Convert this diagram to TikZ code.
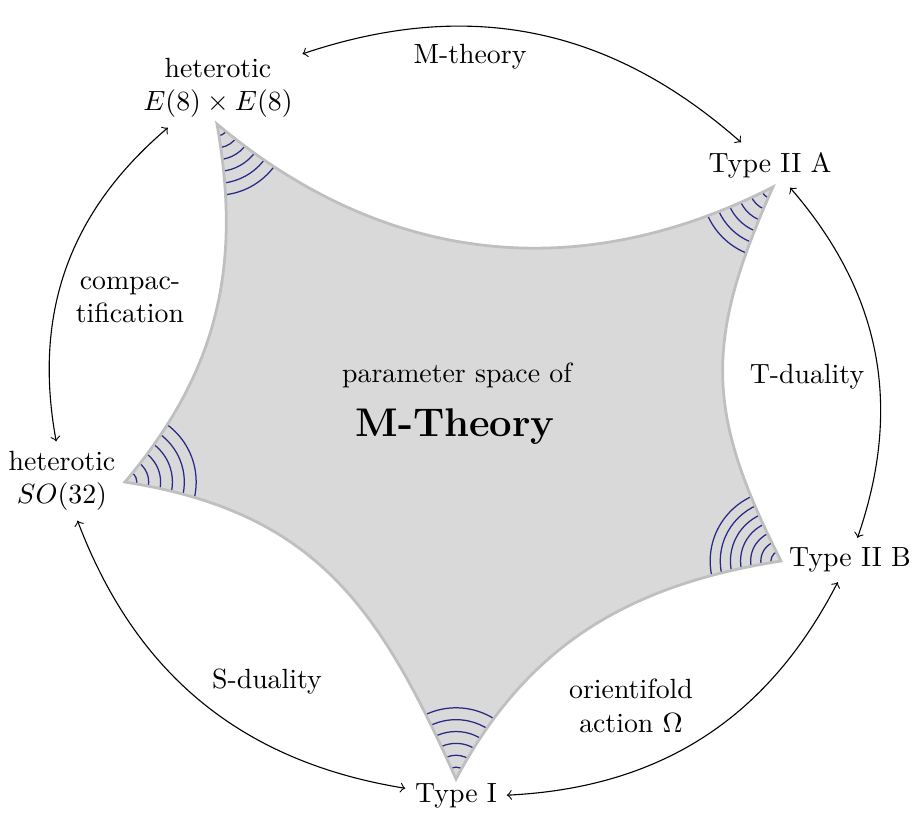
\documentclass[tikz,border=0pt]{standalone}
\usepackage{tikz}
\usepackage{amsmath}
\usetikzlibrary{calc}

\definecolor{arcblue}{RGB}{40,40,135}

\newcommand{\modulipath}{(tl) to[out=-40,in=207] (tr) to[out=246,in=117,looseness=1.15] (br)
  to[out=189,in=62] (bt) to[out=114,in=-9,looseness=1.1] (lf) to[out=50,in=-80] (tl) -- cycle}

\begin{document}
\begin{tikzpicture}[
    dual/.style={<->, bend left=30},
    limitarc/.style={draw=arcblue, line width=0.45pt},
    twoline/.style={align=center}
  ]
  \useasboundingbox (0,0) rectangle (11.618,10.354);

  \coordinate (tl) at (2.743,8.786);
  \coordinate (tr) at (9.772,7.990);
  \coordinate (br) at (9.874,3.262);
  \coordinate (bt) at (5.765,0.506);
  \coordinate (lf) at (1.580,4.260);

  \fill[black!15] \modulipath;
  \begin{scope}
    \clip \modulipath;
    \foreach \v in {tl,tr,lf,bt}
      \foreach \r in {1,...,6}
        \draw[limitarc] (\v) circle [radius=0.15*\r];
    \foreach \r in {1,...,7}
      \draw[limitarc] (br) circle [radius=0.128*\r];
  \end{scope}
  \draw[black!25, line width=1pt] \modulipath;

  \node[twoline] (e8) at (2.756,9.241) {heterotic\\$E(8)\times E(8)$};
  \node (iia) at (9.735,8.268) {Type II A};
  \node[twoline] (so32) at (0.784,4.273) {heterotic\\$SO(32)$};
  \node (iib) at (10.746,3.274) {Type II B};
  \node (ti) at (5.765,0.291) {Type I};

  \draw[dual] (e8) to (iia);
  \draw[dual] (iia) to (iib);
  \draw[dual] (iib) to (ti);
  \draw[dual] (ti) to (so32);
  \draw[dual] (so32) to (e8);

  \node (mth) at (5.942,9.633) {M-theory};
  \node[twoline] (cpt) at (1.643,6.561) {compac-\\tification};
  \node (td) at (10.202,5.588) {T-duality};
  \node (sd) at (3.375,1.732) {S-duality};
  \node[twoline] (om) at (7.977,1.429) {orientifold\\action $\Omega$};
  \node (ps) at (5.777,5.613) {parameter space of};
  \node (mt) at (5.752,4.956) {\Large\bfseries M-Theory};
\end{tikzpicture}
\end{document}
